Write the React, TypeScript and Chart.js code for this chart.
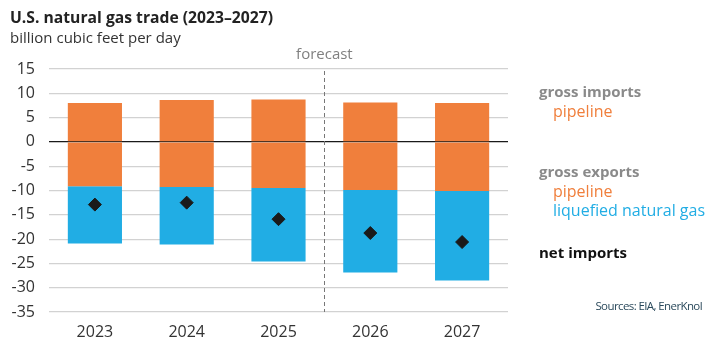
import React, { useEffect, useRef } from "react";
import { Chart, registerables } from "chart.js";

Chart.register(...registerables);

const years = ["2023", "2024", "2025", "2026", "2027"];
const importsPipeline = [8.0, 8.6, 8.7, 8.1, 8.0];
const exportsPipeline = [-9.1, -9.3, -9.5, -9.9, -10.1];
const exportsLNG = [-11.8, -11.8, -15.1, -16.95, -18.4];
const netImports = [-12.9, -12.5, -15.9, -18.75, -20.6];
const yTicks = [15, 10, 5, 0, -5, -10, -15, -20, -25, -30, -35];
const forecastAfterIndex = 2;

const ORANGE = "#F07F3C";
const BLUE = "#21ADE4";
const FONT = "'Open Sans', sans-serif";

const forecastPlugin = {
  id: "forecastLine",
  afterDatasetsDraw(chart: any) {
    const { ctx, chartArea, scales } = chart;
    const x =
      (scales.x.getPixelForValue(forecastAfterIndex) +
        scales.x.getPixelForValue(forecastAfterIndex + 1)) /
      2;
    ctx.save();
    ctx.strokeStyle = "#777777";
    ctx.lineWidth = 1;
    ctx.setLineDash([4, 3]);
    ctx.beginPath();
    ctx.moveTo(Math.round(x) + 0.5, chartArea.top + 2);
    ctx.lineTo(Math.round(x) + 0.5, chartArea.bottom);
    ctx.stroke();
    ctx.setLineDash([]);
    ctx.fillStyle = "#808080";
    ctx.font = `15px ${FONT}`;
    ctx.textAlign = "center";
    ctx.textBaseline = "middle";
    ctx.fillText("forecast", x, chartArea.top - 14);
    ctx.restore();
  },
};

export default function App() {
  const ref = useRef<HTMLCanvasElement | null>(null);

  useEffect(() => {
    document.body.style.margin = "0";
    const canvas = ref.current;
    if (!canvas) return;
    const chart = new Chart(canvas, {
      type: "bar",
      data: {
        labels: years,
        datasets: [
          {
            label: "gross imports pipeline",
            data: importsPipeline,
            backgroundColor: ORANGE,
            stack: "s",
            order: 2,
          },
          {
            label: "gross exports pipeline",
            data: exportsPipeline,
            backgroundColor: ORANGE,
            stack: "s",
            order: 2,
          },
          {
            label: "gross exports liquefied natural gas",
            data: exportsLNG,
            backgroundColor: BLUE,
            stack: "s",
            order: 2,
          },
          {
            type: "line",
            label: "net imports",
            data: netImports,
            showLine: false,
            pointStyle: "rectRot",
            pointRadius: 6.5,
            pointBackgroundColor: "#1a1a1a",
            pointBorderColor: "#1a1a1a",
            pointBorderWidth: 1,
            order: 1,
          } as any,
        ],
      },
      options: {
        animation: false,
        responsive: false,
        maintainAspectRatio: false,
        layout: { padding: { left: 0, right: 207, top: 69, bottom: 0 } },
        plugins: {
          legend: { display: false },
          tooltip: { enabled: false },
          title: { display: false },
        },
        datasets: {
          bar: { categoryPercentage: 1, barPercentage: 0.59 },
        },
        scales: {
          x: {
            stacked: true,
            grid: { display: false, drawTicks: false },
            border: { display: false },
            ticks: {
              color: "#333333",
              font: { family: FONT, size: 16 },
              padding: 11,
            },
            afterFit: (s: any) => {
              s.height = 43;
            },
          },
          y: {
            stacked: true,
            min: -35,
            max: 15,
            afterBuildTicks: (s: any) => {
              s.ticks = yTicks.map((v) => ({ value: v }));
            },
            grid: {
              drawTicks: false,
              lineWidth: 1.2,
              color: (c: any) => (c.tick && c.tick.value === 0 ? "#1a1a1a" : "#d2d2d2"),
            },
            border: { display: false },
            ticks: {
              color: "#333333",
              font: { family: FONT, size: 16 },
              padding: 14,
            },
            afterFit: (s: any) => {
              s.width = 49;
            },
          },
        },
      },
      plugins: [forecastPlugin],
    });
    return () => chart.destroy();
  }, []);

  const txt = (
    text: string,
    left: number,
    centerY: number,
    color: string,
    size: number,
    weight: number
  ) => (
    <div
      style={{
        position: "absolute",
        left,
        top: centerY - 10,
        height: 20,
        lineHeight: "20px",
        fontFamily: FONT,
        fontSize: size,
        fontWeight: weight,
        color,
        whiteSpace: "nowrap",
      }}
    >
      {text}
    </div>
  );

  return (
    <div
      style={{
        position: "fixed",
        left: 0,
        top: 0,
        width: 715,
        height: 355,
        background: "#ffffff",
        overflow: "hidden",
      }}
    >
      <canvas ref={ref} width={715} height={355} style={{ position: "absolute", left: 0, top: 0 }} />
      {txt("U.S. natural gas trade (2023–2027)", 10, 17, "#222222", 15.7, 700)}
      {txt("billion cubic feet per day", 10, 37, "#333333", 15, 400)}
      {txt("gross imports", 539, 91, "#8a8a8a", 15, 700)}
      {txt("pipeline", 553, 111, ORANGE, 16, 500)}
      {txt("gross exports", 539, 171, "#8a8a8a", 15, 700)}
      {txt("pipeline", 553, 191, ORANGE, 16, 500)}
      {txt("liquefied natural gas", 553, 210, BLUE, 16, 500)}
      {txt("net imports", 539, 252, "#111111", 15, 700)}
      <div
        style={{
          position: "absolute",
          right: 13,
          top: 306 - 8,
          height: 16,
          lineHeight: "16px",
          fontFamily: FONT,
          fontSize: 11.5,
          letterSpacing: "-0.6px",
          color: "#2b4a5c",
          whiteSpace: "nowrap",
          textAlign: "right",
        }}
      >
        Sources: EIA, EnerKnol
      </div>
    </div>
  );
}
